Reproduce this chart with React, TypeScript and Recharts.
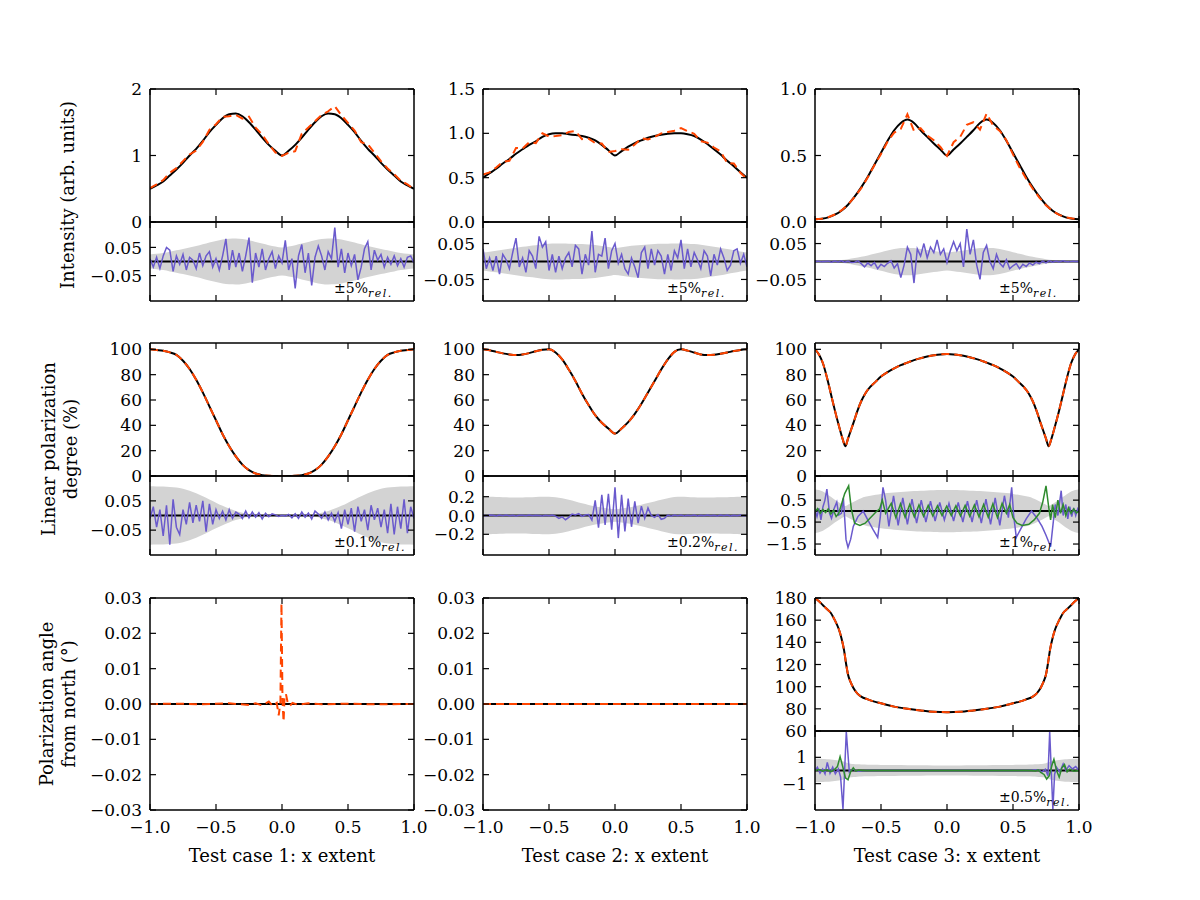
import React from "react";
import { Area, ComposedChart, Line, XAxis, YAxis } from "recharts";

const FONT = '"DejaVu Serif", "Liberation Serif", serif';
const ORANGE = "#ff4500";
const PURPLE = "#6a5acd";
const GREEN = "#2e8b2e";
const BAND = "#d3d3d3";

const PLOT_W = 264;
const MAIN_H = 133;
const RES_H = 79;
const FULL_H = MAIN_H + RES_H;
const COL_X = [150, 483, 815];
const ROW_Y = [89, 343, 598];
const AXIS_W = 80;
const PAD = 12;
const PAD_R = 24;
const TICK_GAP = 10;
const TICK_LEN = 6;

const X_TICKS = [-1, -0.5, 0, 0.5, 1];

// sample positions along the x extent
const GRID_05 = Array.from({ length: 41 }, (_, i) => Math.round((i * 0.05 - 1) * 1000) / 1000);
const GRID_025 = Array.from({ length: 81 }, (_, i) => Math.round((i * 0.025 - 1) * 10000) / 10000);
const FLAT_X = [-1, 1];
const FLAT_Y = [0, 0];

// ---- intensity models (GRID_05) ----
const intensity1 = [
  0.5, 0.55, 0.61, 0.7, 0.79, 0.89, 1.0, 1.1, 1.22, 1.35, 1.46, 1.56, 1.62, 1.63, 1.59, 1.5, 1.39, 1.27, 1.16, 1.07,
  1.0,
  1.07, 1.16, 1.27, 1.39, 1.5, 1.59, 1.63, 1.62, 1.56, 1.46, 1.35, 1.22, 1.1, 1.0, 0.89, 0.79, 0.7, 0.61, 0.55, 0.5,
];
const intensity2 = [
  0.5, 0.55, 0.6, 0.66, 0.71, 0.77, 0.82, 0.87, 0.91, 0.96, 0.99, 1.0, 1.0, 0.99, 0.98, 0.97, 0.95, 0.92, 0.87, 0.81,
  0.75,
  0.8, 0.85, 0.89, 0.92, 0.95, 0.97, 0.985, 0.995, 1.0, 1.0, 0.99, 0.97, 0.93, 0.88, 0.82, 0.76, 0.69, 0.63, 0.56, 0.5,
];
const intensity3 = [
  0.02, 0.025, 0.035, 0.055, 0.085, 0.13, 0.19, 0.26, 0.34, 0.43, 0.52, 0.61, 0.69, 0.745, 0.77, 0.745, 0.69, 0.64,
  0.59, 0.545, 0.5,
  0.545, 0.59, 0.64, 0.69, 0.745, 0.77, 0.745, 0.69, 0.61, 0.52, 0.43, 0.34, 0.26, 0.19, 0.13, 0.085, 0.055, 0.035,
  0.025, 0.02,
];

// ---- intensity residuals (GRID_025) ----
const intensityRes1 = [
  0.01, -0.02, 0.015, -0.025, 0.02, 0.05, 0.04, -0.035, 0.02, -0.01,
  0.025, -0.03, 0.015, 0.005, -0.025, 0.03, -0.015, 0.02, 0.035, -0.02,
  0.01, -0.03, 0.02, 0.08, -0.03, 0.04, -0.02, 0.03, -0.035, 0.02,
  0.085, -0.075, 0.03, -0.02, 0.045, -0.03, 0.01, 0.035, -0.025, 0.02,
  -0.005, 0.075, -0.03, 0.01, -0.095, 0.02, 0.06, -0.04, 0.03, -0.085,
  0.015, 0.055, 0.02, -0.03, 0.035, 0.01, 0.12, -0.02, 0.045, -0.04,
  0.03, -0.015, 0.025, -0.065, -0.02, 0.045, 0.07, -0.03, 0.04, 0.005,
  0.025, -0.02, 0.015, -0.01, 0.02, -0.015, 0.01, -0.02, 0.015, 0.02, -0.005,
];
const intensityRes2 = [
  0.035, -0.02, 0.01, -0.025, 0.015, -0.035, 0.02, 0.005, -0.02, 0.025,
  0.065, -0.015, 0.01, -0.03, 0.03, 0.015, -0.02, 0.07, 0.04, 0.055,
  -0.025, 0.02, -0.03, 0.015, -0.02, 0.01, 0.025, -0.015, 0.045, 0.035,
  -0.035, 0.02, -0.01, 0.085, -0.03, 0.02, 0.015, 0.065, -0.02, 0.03,
  0.05, -0.005, 0.02, -0.02, -0.035, 0.01, -0.015, -0.045, 0.025, 0.04,
  -0.02, 0.035, -0.01, 0.03, 0.015, -0.035, 0.02, -0.025, 0.03, 0.01,
  0.06, -0.02, 0.035, -0.015, 0.025, 0.005, -0.02, 0.03, 0.015, -0.04,
  0.02, -0.01, 0.035, 0.01, -0.025, -0.01, 0.03, 0.035, -0.005, 0.02, -0.015,
];
const intensityRes3 = [
  0, 0.001, -0.001, 0, 0.001, -0.002, 0.001, -0.001, 0.002, -0.002,
  0.001, -0.003, -0.002, 0.002, -0.006, -0.015, -0.004, -0.012, -0.003, -0.02,
  -0.008, -0.014, -0.005, 0.002, -0.018, -0.006, -0.045, -0.01, 0.04, 0.02,
  -0.06, 0.035, 0.015, 0.05, 0.01, 0.04, 0.025, 0.06, 0.02, 0.035,
  -0.003, 0.03, 0.055, 0.03, 0.05, -0.015, 0.09, 0.02, 0.06, -0.01,
  -0.05, 0.025, 0.045, 0, -0.02, 0.02, -0.005, -0.015, 0.005, -0.02,
  -0.012, -0.006, -0.02, -0.008, -0.014, -0.004, -0.01, -0.002, -0.006, 0.001,
  -0.004, 0.002, -0.002, 0.001, -0.001, 0.002, 0, -0.001, 0.001, 0, 0,
];

// ---- linear polarization degree (%) ----
const polDeg1 = [
  100, 99.4, 98.8, 97.6, 95.6, 91, 84.5, 76, 66, 55, 44, 33, 23.5, 15.5, 9, 4.6, 2, 0.7, 0.2, 0.03,
  0,
  0.03, 0.2, 0.7, 2, 4.6, 9, 15.5, 23.5, 33, 44, 55, 66, 76, 84.5, 91, 95.6, 97.6, 98.8, 99.4, 100,
];
const polDeg2 = [
  100, 99.2, 98.0, 96.8, 96.0, 95.6, 96.0, 97.0, 98.5, 99.6, 100, 97.5, 92, 84, 75, 65, 56, 48, 42, 37.5,
  33.5,
  37.5, 42.5, 49, 57, 66, 75, 84, 92, 98, 100, 99, 97.5, 96, 95.5, 95.7, 96.5, 97.5, 98.6, 99.5, 100,
];
const polDeg3X = [
  -1, -0.97, -0.94, -0.91, -0.88, -0.85, -0.82, -0.79, -0.77, -0.75, -0.73, -0.71, -0.68, -0.65, -0.62, -0.58,
  -0.54, -0.5, -0.45, -0.4, -0.35, -0.3, -0.25, -0.2, -0.15, -0.1, -0.05, 0,
  0.05, 0.1, 0.15, 0.2, 0.25, 0.3, 0.35, 0.4, 0.45, 0.5, 0.54, 0.58, 0.62, 0.65, 0.68, 0.71, 0.73, 0.75, 0.77,
  0.79, 0.82, 0.85, 0.88, 0.91, 0.94, 0.97, 1,
];
const polDeg3 = [
  100, 96, 89, 78, 65, 52, 40, 29, 23.5, 29.5, 35.5, 41.5, 51, 59, 65, 70.5,
  74.5, 78.5, 82, 85, 87.5, 89.5, 91.5, 93, 94.3, 95.3, 96, 96.3,
  96, 95.3, 94.3, 93, 91.5, 89.5, 87.5, 85, 82, 78.5, 74.5, 70.5, 65, 59, 51, 41.5, 35.5, 29.5, 23.5,
  29, 40, 52, 65, 78, 89, 96, 100,
];

// ---- polarization degree residuals ----
const polRes1 = [
  -0.01, 0.03, -0.04, 0.02, -0.07, 0.035, -0.1, 0.055, -0.04, -0.065,
  0.02, -0.03, 0.045, -0.025, 0.035, -0.02, 0.05, -0.055, 0.04, -0.03,
  0.02, -0.01, 0.015, -0.015, 0.02, -0.01, 0.012, 0.005, -0.01, 0.015,
  -0.008, 0.012, -0.006, 0.01, -0.012, 0.008, -0.004, 0.006, 0.002, -0.003,
  0.001, -0.002, 0.004, -0.008, 0.006, -0.01, 0.012, -0.006, 0.008, -0.012,
  0.015, 0.005, -0.01, 0.012, -0.015, 0.008, -0.02, 0.01, -0.045, 0.02,
  -0.03, 0.025, -0.055, 0.03, -0.02, 0.02, -0.05, 0.035, -0.015, 0.025,
  -0.04, 0.02, -0.06, 0.04, -0.065, 0.03, -0.045, 0.055, -0.06, 0.03, -0.01,
];
const polRes2 = [
  0.005, -0.004, 0.006, 0.002, -0.005, 0.004, -0.003, 0.005, -0.002, 0.003,
  -0.004, 0.002, 0.003, -0.002, 0.004, -0.003, 0.002, 0, -0.004, 0.003,
  -0.002, 0.004, -0.006, -0.03, -0.015, -0.045, -0.02, 0.015, 0.005, 0.02,
  -0.01, 0.005, 0.01, -0.05, 0.16, -0.13, 0.22, -0.1, 0.23, -0.15,
  0.3, -0.24, 0.22, -0.17, 0.18, -0.12, 0.15, -0.08, 0.1, -0.03,
  0.08, 0, -0.02, 0.01, -0.04, -0.03, 0.005, -0.008, 0.004, -0.003,
  0.005, -0.004, 0.003, -0.002, 0.004, -0.005, 0.003, -0.002, 0.005, -0.003,
  0.002, -0.004, 0.006, -0.003, 0.004, -0.006, 0.003, -0.002, 0.005, -0.004, 0.002,
];
const polRes3X = [
  -1, -0.985, -0.97, -0.955, -0.94, -0.925, -0.91, -0.89, -0.875, -0.855, -0.835, -0.82, -0.8, -0.785, -0.765,
  -0.75, -0.73, -0.71, -0.675, -0.635, -0.6, -0.56, -0.525, -0.505, -0.485, -0.465, -0.44, -0.405, -0.37, -0.335,
  -0.3, -0.265, -0.23, -0.195, -0.16, -0.125, -0.09, -0.055, -0.02, 0.015, 0.05, 0.085, 0.12, 0.155, 0.19, 0.225,
  0.26, 0.295, 0.33, 0.365, 0.4, 0.435, 0.465, 0.49, 0.505, 0.525, 0.56, 0.6, 0.64, 0.68, 0.72, 0.75, 0.785,
  0.805, 0.82, 0.84, 0.865, 0.88, 0.9, 0.915, 0.93, 0.945, 0.96, 0.975, 0.99, 1,
];
const polRes3 = [
  0.04, -0.25, 0.12, -0.4, 0.19, 0.49, 1.0, -0.1, -0.33, 0.12, 0.41, -0.18, -0.1, 0.6, -1.29,
  -1.66, -1.29, -0.7, -0.25, 0, -0.4, -0.84, -1.2, -0.25, 1.08, 0.49, -0.7, 0.7, -0.65, 0.6,
  -0.6, 0.55, -0.55, 0.5, -0.5, 0.45, -0.45, 0.4, -0.4, 0.35, -0.45, 0.4, -0.5, 0.45, -0.5, 0.5,
  -0.55, 0.55, -0.6, 0.6, -0.65, 0.7, -0.3, 1.08, -0.2, -1.2, -0.8, -0.35, 0, -0.3, -0.7, -1.1, -1.62,
  -0.5, 0.3, -0.2, 0.93, -0.2, 0.3, -0.35, 0.2, -0.25, 0.15, -0.2, 0.1, -0.05,
];
const polRes3bX = [
  -1, -0.98, -0.96, -0.94, -0.92, -0.9, -0.88, -0.86, -0.84, -0.82, -0.8, -0.775, -0.745, -0.725, -0.7, -0.66,
  -0.62, -0.58, -0.54, -0.51, -0.49, -0.465, -0.4225, -0.3875, -0.3525, -0.3175, -0.2825, -0.2475, -0.2125,
  -0.1775, -0.1425, -0.1075, -0.0725, -0.0375, -0.0025, 0.0325, 0.0675, 0.1025, 0.1375, 0.1725, 0.2075, 0.2425,
  0.2775, 0.3125, 0.3475, 0.3825, 0.4175, 0.45, 0.475, 0.5, 0.53, 0.57, 0.62, 0.66, 0.7, 0.725, 0.75, 0.77,
  0.785, 0.8, 0.82, 0.84, 0.86, 0.88, 0.9, 0.92, 0.94, 0.96, 0.98, 1,
];
const polRes3b = [
  -0.03, 0.12, -0.1, 0.07, -0.07, 0.1, -0.13, 0.04, -0.25, -0.1, 0.3, 0.8, 1.15, 0.1, -0.55, -0.65,
  -0.55, -0.3, -0.05, 0.1, 0.5, -0.1, 0.35, -0.3, 0.33, -0.28, 0.3, -0.26, 0.28,
  -0.24, 0.26, -0.22, 0.24, -0.2, 0.22, -0.2, 0.24, -0.22, 0.26, -0.24, 0.28, -0.26,
  0.3, -0.28, 0.33, -0.3, 0.35, -0.1, 0.3, -0.3, -0.55, -0.65, -0.6, -0.4, -0.1, 0.4, 1.15, 0.2,
  -0.4, 0.3, -0.3, 0.5, -0.1, 0.3, -0.2, 0.15, -0.1, 0.1, -0.08, 0,
];

// ---- polarization angle from north (deg) ----
const angle1X = [
  -1, -0.8, -0.6, -0.4, -0.25, -0.2, -0.15, -0.1, -0.07, -0.04, -0.025, -0.012, -0.004, 0.004, 0.012, 0.02, 0.03,
  0.045, 0.06, 0.08, 0.12, 0.2, 0.3, 0.5, 0.7, 1,
];
const angle1 = [
  0, 0.0001, -0.0001, 0.0002, -0.0003, 0.0002, -0.0004, 0.0007, -0.0006, 0.0003, -0.0032, 0.0005, 0.0285, 0.0005,
  -0.005, 0.0025, 0.0028, 0, -0.0005, 0.0003, -0.0002, 0.0002, -0.0001, 0.0001, -0.0001, 0,
];
const angle2X = [-1, -0.5, 0, 0.5, 1];
const angle2 = [0, 0, 0, 0, 0];
const angle3X = [
  -1, -0.97, -0.94, -0.91, -0.88, -0.85, -0.82, -0.8, -0.78, -0.765, -0.75, -0.73, -0.71, -0.68, -0.65, -0.6,
  -0.55, -0.5, -0.4, -0.3, -0.2, -0.1, 0,
  0.1, 0.2, 0.3, 0.4, 0.5, 0.55, 0.6, 0.65, 0.68, 0.71, 0.73, 0.75, 0.765, 0.78, 0.8, 0.82, 0.85, 0.88, 0.91,
  0.94, 0.97, 1,
];
const angle3 = [
  180, 177, 173.5, 170, 166.5, 160, 152, 144, 133, 121, 111, 104, 99, 94, 91, 88.5,
  86.5, 85, 82, 80, 78.5, 77.3, 77,
  77.3, 78.5, 80, 82, 85, 86.5, 88.5, 91, 94, 99, 104, 111, 121, 133, 144, 152, 160, 166.5, 170,
  173.5, 177, 180,
];
const angleRes3X = [
  -1, -0.982, -0.962, -0.942, -0.924, -0.907, -0.886, -0.866, -0.846, -0.823, -0.806, -0.788, -0.763, -0.74,
  -0.715, -0.684, -0.61, 0.61, 0.69, 0.72, 0.745, 0.765, 0.778, 0.802, 0.815, 0.83, 0.855, 0.88, 0.9, 0.925,
  0.95, 0.975, 1,
];
const angleRes3 = [
  0, 0.25, -0.2, 0.12, -0.25, 0.62, -0.2, 0.25, -0.25, 0.12, -0.5, -2.95, 2.95, -0.12,
  0.12, -0.05, 0, 0, 0.05, -0.1, 0.1, -0.4, 2.95, -2.95, -0.3, 0.25, -0.12, 0.5, 0, 0.37,
  0.12, 0.3, 0,
];
const angleRes3bX = [
  -1, -0.97, -0.94, -0.91, -0.88, -0.85, -0.83, -0.81, -0.79, -0.77, -0.75, -0.73, -0.71, -0.69, -0.67, -0.64,
  0.64, 0.67, 0.69, 0.71, 0.735, 0.755, 0.775, 0.795, 0.81, 0.83, 0.85, 0.87, 0.89, 0.91, 0.93, 0.96, 1,
];
const angleRes3b = [
  0, 0.08, -0.05, 0.05, -0.08, 0.1, 0.3, 1.05, 0.3, -0.55, -0.7, -0.1, 0.2, -0.05, 0.03, 0,
  0, -0.03, 0.05, -0.15, -0.3, -0.65, -0.4, 0.4, 0.85, 0, -0.5, 0.2, 0.45, -0.1, 0.1, -0.05, 0,
];

type Row = { x: number; [key: string]: number | number[] };

function table(...cols: Array<[string, number[], Array<number | number[]>]>): Row[] {
  const rows = new Map<number, Row>();
  for (const [key, xs, ys] of cols) {
    xs.forEach((x, i) => {
      const k = Math.round(x * 10000) / 10000;
      const row = rows.get(k) ?? { x: k };
      row[key] = ys[i];
      rows.set(k, row);
    });
  }
  return [...rows.values()].sort((a, b) => a.x - b.x);
}

// ±pct % of the model value
const relBand = (model: number[], pct: number) => model.map((v) => [(-v * pct) / 100, (v * pct) / 100]);
// measured intensity = model + residual on the shared grid points
const observed = (model: number[], res: number[]) => model.map((v, i) => v + res[i * 2]);

const signed = (v: number, digits: number) => (v < 0 ? "\u2212" : "") + Math.abs(v).toFixed(digits);
const fmt0 = (v: number) => signed(v, 0);
const fmt1 = (v: number) => signed(v, 1);
const fmt2 = (v: number) => signed(v, 2);

const FRAME = { stroke: "#000", strokeWidth: 1.5 };
const TICK_STROKE = { stroke: "#000", strokeWidth: 1.2 };
const TICK_TEXT = { fill: "#000", fontSize: 17, fontFamily: FONT };

// ticks point into the plot on all four sides; x/y arrive offset by TICK_GAP from the frame
const leftTick = (fmt: (v: number) => string) => (p: any) => (
  <g>
    <line x1={p.x + TICK_GAP} x2={p.x + TICK_GAP + TICK_LEN} y1={p.y} y2={p.y} {...TICK_STROKE} />
    <text x={p.x + 2} y={p.y} dy="0.36em" textAnchor="end" {...TICK_TEXT}>
      {fmt(p.payload.value)}
    </text>
  </g>
);
const rightTick = (p: any) => (
  <line x1={p.x - TICK_GAP} x2={p.x - TICK_GAP - TICK_LEN} y1={p.y} y2={p.y} {...TICK_STROKE} />
);
const topTick = (p: any) => (
  <line x1={p.x} x2={p.x} y1={p.y + TICK_GAP} y2={p.y + TICK_GAP + TICK_LEN} {...TICK_STROKE} />
);
const bottomTick = (labels: boolean) => (p: any) => (
  <g>
    <line x1={p.x} x2={p.x} y1={p.y - TICK_GAP} y2={p.y - TICK_GAP - TICK_LEN} {...TICK_STROKE} />
    {labels && (
      <text x={p.x} y={p.y - TICK_GAP + 23} textAnchor="middle" {...TICK_TEXT}>
        {fmt1(p.payload.value)}
      </text>
    )}
  </g>
);

type PanelProps = {
  x: number;
  y: number;
  h: number;
  data: Row[];
  domain: [number, number];
  ticks: number[];
  fmt: (v: number) => string;
  xLabels?: boolean;
  children: React.ReactNode;
};

function Panel({ x, y, h, data, domain, ticks, fmt, xLabels, children }: PanelProps) {
  const bottom = xLabels ? 36 : PAD;
  return (
    <div style={{ position: "absolute", left: x - AXIS_W, top: y - PAD }}>
      <ComposedChart
        width={AXIS_W + PLOT_W + PAD_R}
        height={PAD + h + bottom}
        data={data}
        margin={{ top: PAD - 1, right: PAD_R - 1, bottom: 0, left: 0 }}
      >
        <XAxis
          dataKey="x"
          type="number"
          domain={[-1, 1]}
          ticks={X_TICKS}
          interval={0}
          allowDataOverflow
          height={bottom}
          tickSize={0}
          tickMargin={TICK_GAP}
          tick={bottomTick(!!xLabels)}
          axisLine={FRAME}
          tickLine={false}
        />
        <XAxis
          xAxisId="top"
          orientation="top"
          dataKey="x"
          type="number"
          domain={[-1, 1]}
          ticks={X_TICKS}
          interval={0}
          allowDataOverflow
          height={1}
          tickSize={0}
          tickMargin={TICK_GAP}
          tick={topTick}
          axisLine={FRAME}
          tickLine={false}
        />
        <YAxis
          type="number"
          domain={domain}
          ticks={ticks}
          interval={0}
          allowDataOverflow
          width={AXIS_W}
          tickSize={0}
          tickMargin={TICK_GAP}
          tick={leftTick(fmt)}
          axisLine={FRAME}
          tickLine={false}
        />
        <YAxis
          yAxisId="right"
          orientation="right"
          type="number"
          domain={domain}
          ticks={ticks}
          interval={0}
          allowDataOverflow
          width={1}
          tickSize={0}
          tickMargin={TICK_GAP}
          tick={rightTick}
          axisLine={FRAME}
          tickLine={false}
        />
        {/* keeps the top and right frame axes bound to the same rows */}
        <Line
          xAxisId="top"
          yAxisId="right"
          dataKey="x"
          stroke="none"
          dot={false}
          activeDot={false}
          legendType="none"
          isAnimationActive={false}
        />
        {children}
      </ComposedChart>
    </div>
  );
}

const mainSeries = (dataCurve: "linear" | "monotone") => [
  <Line key="model" dataKey="model" type="monotone" stroke="#000" strokeWidth={2} dot={false} connectNulls isAnimationActive={false} />,
  <Line
    key="data"
    dataKey="data"
    type={dataCurve}
    stroke={ORANGE}
    strokeWidth={2}
    strokeDasharray="8 5"
    dot={false}
    connectNulls
    isAnimationActive={false}
  />,
];

const resSeries = (keys: Array<[string, string]>) => [
  <Area key="band" dataKey="band" type="monotone" stroke="none" fill={BAND} fillOpacity={1} connectNulls isAnimationActive={false} />,
  <Line key="zero" dataKey="zero" type="linear" stroke="#000" strokeWidth={2} dot={false} connectNulls isAnimationActive={false} />,
  ...keys.map(([k, color]) => (
    <Line key={k} dataKey={k} type="linear" stroke={color} strokeWidth={1.5} dot={false} connectNulls isAnimationActive={false} />
  )),
];

function RelNote({ col, bottom, pct }: { col: number; bottom: number; pct: string }) {
  return (
    <div
      style={{
        position: "absolute",
        left: COL_X[col] + 184,
        top: bottom - 21,
        fontFamily: FONT,
        fontSize: 14,
        lineHeight: "16px",
        whiteSpace: "nowrap",
        color: "#000",
      }}
    >
      ±{pct}%<sub style={{ fontStyle: "italic", fontSize: 11, letterSpacing: 1.5 }}>rel.</sub>
    </div>
  );
}

function YTitle({ cx, cy, lines }: { cx: number; cy: number; lines: string[] }) {
  const w = 320;
  const lh = 22;
  const h = lh * lines.length;
  return (
    <div
      style={{
        position: "absolute",
        left: cx - w / 2,
        top: cy - h / 2,
        width: w,
        height: h,
        transform: "rotate(-90deg)",
        textAlign: "center",
        fontFamily: FONT,
        fontSize: 18,
        lineHeight: `${lh}px`,
        color: "#000",
      }}
    >
      {lines.map((t) => (
        <div key={t}>{t}</div>
      ))}
    </div>
  );
}

function XTitle({ col, text }: { col: number; text: string }) {
  return (
    <div
      style={{
        position: "absolute",
        left: COL_X[col] + PLOT_W / 2 - 150,
        top: 845,
        width: 300,
        textAlign: "center",
        fontFamily: FONT,
        fontSize: 18,
        color: "#000",
      }}
    >
      {text}
    </div>
  );
}

export default function App() {
  const resY = (r: number) => ROW_Y[r] + MAIN_H;

  const int1 = table(["model", GRID_05, intensity1], ["data", GRID_05, observed(intensity1, intensityRes1)]);
  const int2 = table(["model", GRID_05, intensity2], ["data", GRID_05, observed(intensity2, intensityRes2)]);
  const int3 = table(["model", GRID_05, intensity3], ["data", GRID_05, observed(intensity3, intensityRes3)]);
  const intR1 = table(["band", GRID_05, relBand(intensity1, 5)], ["zero", FLAT_X, FLAT_Y], ["res", GRID_025, intensityRes1]);
  const intR2 = table(["band", GRID_05, relBand(intensity2, 5)], ["zero", FLAT_X, FLAT_Y], ["res", GRID_025, intensityRes2]);
  const intR3 = table(["band", GRID_05, relBand(intensity3, 5)], ["zero", FLAT_X, FLAT_Y], ["res", GRID_025, intensityRes3]);

  const pol1 = table(["model", GRID_05, polDeg1], ["data", GRID_05, polDeg1]);
  const pol2 = table(["model", GRID_05, polDeg2], ["data", GRID_05, polDeg2]);
  const pol3 = table(["model", polDeg3X, polDeg3], ["data", polDeg3X, polDeg3]);
  const polR1 = table(["band", GRID_05, relBand(polDeg1, 0.1)], ["zero", FLAT_X, FLAT_Y], ["res", GRID_025, polRes1]);
  const polR2 = table(["band", GRID_05, relBand(polDeg2, 0.2)], ["zero", FLAT_X, FLAT_Y], ["res", GRID_025, polRes2]);
  const polR3 = table(
    ["band", polDeg3X, relBand(polDeg3, 1)],
    ["zero", FLAT_X, FLAT_Y],
    ["res", polRes3X, polRes3],
    ["res2", polRes3bX, polRes3b],
  );

  const ang1 = table(["model", FLAT_X, FLAT_Y], ["data", angle1X, angle1]);
  const ang2 = table(["model", FLAT_X, FLAT_Y], ["data", angle2X, angle2]);
  const ang3 = table(["model", angle3X, angle3], ["data", angle3X, angle3]);
  const angR3 = table(
    ["band", angle3X, relBand(angle3, 0.5)],
    ["zero", FLAT_X, FLAT_Y],
    ["res", angleRes3X, angleRes3],
    ["res2", angleRes3bX, angleRes3b],
  );

  return (
    <div style={{ position: "absolute", left: 0, top: 0, width: 1200, height: 900, background: "#fff" }}>
      {/* intensity */}
      <Panel x={COL_X[0]} y={ROW_Y[0]} h={MAIN_H} data={int1} domain={[0, 2]} ticks={[0, 1, 2]} fmt={fmt0}>
        {mainSeries("linear")}
      </Panel>
      <Panel x={COL_X[1]} y={ROW_Y[0]} h={MAIN_H} data={int2} domain={[0, 1.5]} ticks={[0, 0.5, 1, 1.5]} fmt={fmt1}>
        {mainSeries("linear")}
      </Panel>
      <Panel x={COL_X[2]} y={ROW_Y[0]} h={MAIN_H} data={int3} domain={[0, 1]} ticks={[0, 0.5, 1]} fmt={fmt1}>
        {mainSeries("linear")}
      </Panel>
      <Panel x={COL_X[0]} y={resY(0)} h={RES_H} data={intR1} domain={[-0.14, 0.14]} ticks={[-0.05, 0.05]} fmt={fmt2}>
        {resSeries([["res", PURPLE]])}
      </Panel>
      <Panel x={COL_X[1]} y={resY(0)} h={RES_H} data={intR2} domain={[-0.11, 0.11]} ticks={[-0.05, 0.05]} fmt={fmt2}>
        {resSeries([["res", PURPLE]])}
      </Panel>
      <Panel x={COL_X[2]} y={resY(0)} h={RES_H} data={intR3} domain={[-0.11, 0.11]} ticks={[-0.05, 0.05]} fmt={fmt2}>
        {resSeries([["res", PURPLE]])}
      </Panel>

      {/* linear polarization degree */}
      <Panel x={COL_X[0]} y={ROW_Y[1]} h={MAIN_H} data={pol1} domain={[0, 105]} ticks={[0, 20, 40, 60, 80, 100]} fmt={fmt0}>
        {mainSeries("monotone")}
      </Panel>
      <Panel x={COL_X[1]} y={ROW_Y[1]} h={MAIN_H} data={pol2} domain={[0, 105]} ticks={[0, 20, 40, 60, 80, 100]} fmt={fmt0}>
        {mainSeries("monotone")}
      </Panel>
      <Panel x={COL_X[2]} y={ROW_Y[1]} h={MAIN_H} data={pol3} domain={[0, 105]} ticks={[0, 20, 40, 60, 80, 100]} fmt={fmt0}>
        {mainSeries("monotone")}
      </Panel>
      <Panel x={COL_X[0]} y={resY(1)} h={RES_H} data={polR1} domain={[-0.135, 0.135]} ticks={[-0.05, 0.05]} fmt={fmt2}>
        {resSeries([["res", PURPLE]])}
      </Panel>
      <Panel x={COL_X[1]} y={resY(1)} h={RES_H} data={polR2} domain={[-0.42, 0.42]} ticks={[-0.2, 0, 0.2]} fmt={fmt1}>
        {resSeries([["res", PURPLE]])}
      </Panel>
      <Panel x={COL_X[2]} y={resY(1)} h={RES_H} data={polR3} domain={[-2, 1.6]} ticks={[-1.5, -0.5, 0.5]} fmt={fmt1}>
        {resSeries([["res", PURPLE], ["res2", GREEN]])}
      </Panel>

      {/* polarization angle */}
      <Panel x={COL_X[0]} y={ROW_Y[2]} h={FULL_H} data={ang1} domain={[-0.03, 0.03]} ticks={[-0.03, -0.02, -0.01, 0, 0.01, 0.02, 0.03]} fmt={fmt2} xLabels>
        {mainSeries("linear")}
      </Panel>
      <Panel x={COL_X[1]} y={ROW_Y[2]} h={FULL_H} data={ang2} domain={[-0.03, 0.03]} ticks={[-0.03, -0.02, -0.01, 0, 0.01, 0.02, 0.03]} fmt={fmt2} xLabels>
        {mainSeries("linear")}
      </Panel>
      <Panel x={COL_X[2]} y={ROW_Y[2]} h={MAIN_H} data={ang3} domain={[60, 180]} ticks={[60, 80, 100, 120, 140, 160, 180]} fmt={fmt0}>
        {mainSeries("monotone")}
      </Panel>
      <Panel x={COL_X[2]} y={resY(2)} h={RES_H} data={angR3} domain={[-3, 3]} ticks={[-1, 1]} fmt={fmt0} xLabels>
        {resSeries([["res", PURPLE], ["res2", GREEN]])}
      </Panel>

      <RelNote col={0} bottom={resY(0) + RES_H} pct="5" />
      <RelNote col={1} bottom={resY(0) + RES_H} pct="5" />
      <RelNote col={2} bottom={resY(0) + RES_H} pct="5" />
      <RelNote col={0} bottom={resY(1) + RES_H} pct="0.1" />
      <RelNote col={1} bottom={resY(1) + RES_H} pct="0.2" />
      <RelNote col={2} bottom={resY(1) + RES_H} pct="1" />
      <RelNote col={2} bottom={resY(2) + RES_H} pct="0.5" />

      <YTitle cx={68} cy={195} lines={["Intensity (arb. units)"]} />
      <YTitle cx={60} cy={449} lines={["Linear polarization", "degree (%)"]} />
      <YTitle cx={58} cy={704} lines={["Polarization angle", "from north (°)"]} />

      <XTitle col={0} text="Test case 1: x extent" />
      <XTitle col={1} text="Test case 2: x extent" />
      <XTitle col={2} text="Test case 3: x extent" />
    </div>
  );
}
